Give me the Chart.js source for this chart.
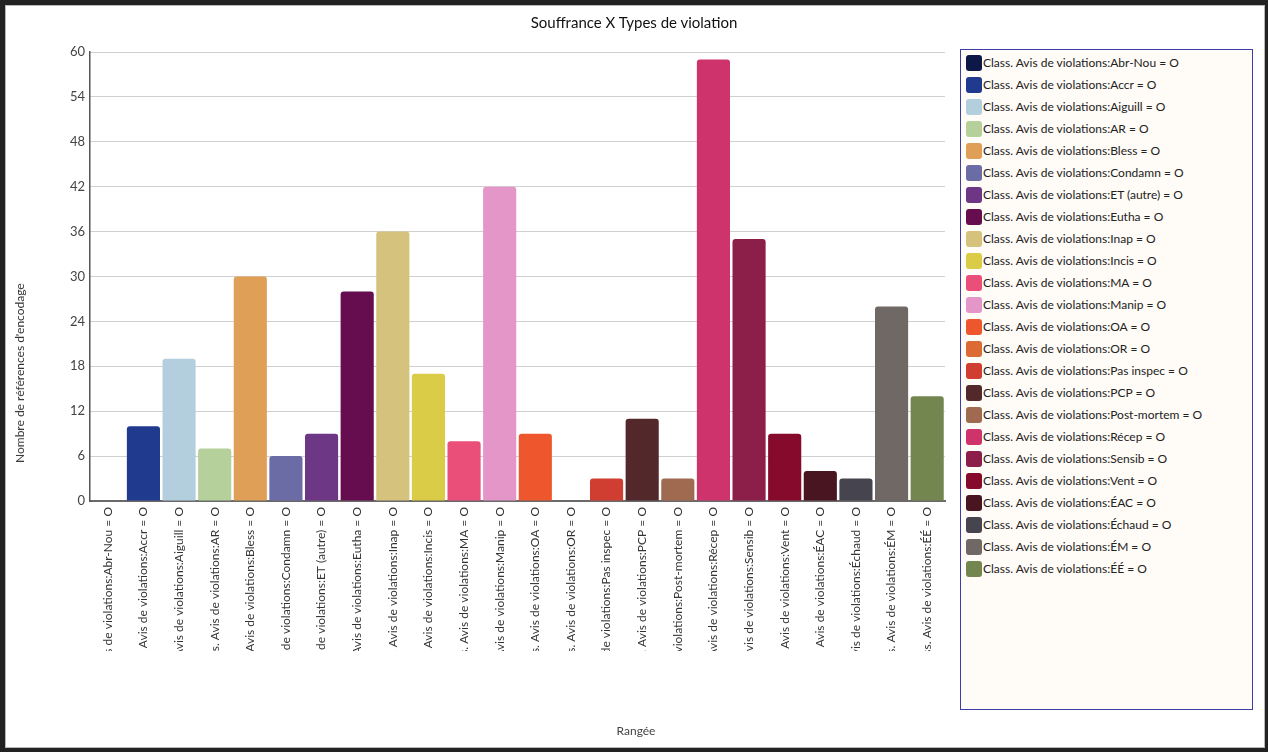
<!DOCTYPE html>
<html>
<head>
<meta charset="utf-8">
<script src="https://cdn.jsdelivr.net/npm/chart.js@4/dist/chart.umd.min.js"></script>
<style>
  html, body { margin: 0; padding: 0; width: 1268px; height: 752px; background: #222; overflow: hidden; font-family: Lato, "Open Sans", sans-serif; }
  #frame { position: absolute; left: 5px; top: 5px; width: 1258px; height: 741px; background: #fff; border: 1px solid #b8b8b8; }
  #c { position: absolute; left: 0; top: 0; }
  .ttl { position: absolute; font-family: Lato, sans-serif; font-weight: 400; white-space: nowrap; }
  #title { left: 0; width: 1268px; top: 13px; text-align: center; font-size: 15px; color: #111; }
  #xtitle { left: 0; width: 1272px; top: 723px; text-align: center; font-size: 12px; color: #444; }
  #ytitle { left: 13px; top: 283px; height: 181px; font-size: 12px; line-height: 14px; color: #333; writing-mode: vertical-rl; transform: rotate(180deg); text-align: center; }
  #legend { position: absolute; left: 960px; top: 49px; width: 291px; height: 659px; border: 1.5px solid #3d3da8; background: #fffbf6; }
  .li { position: absolute; left: 5px; height: 16px; font-family: Lato, sans-serif; font-size: 12px; color: #222; white-space: nowrap; }
  .sw { position: absolute; left: 0; top: 0; width: 16px; height: 16px; border-radius: 3px; }
  .lt { position: absolute; left: 17px; top: 0; line-height: 16px; }
</style>
</head>
<body>
<div id="frame"></div>
<canvas id="c" width="1268" height="752"></canvas>
<div id="title" class="ttl">Souffrance X Types de violation</div>
<div id="xtitle" class="ttl">Rangée</div>
<div id="ytitle" class="ttl">Nombre de références d'encodage</div>
<div id="legend"></div>
<script>
const categories = ["Abr-Nou","Accr","Aiguill","AR","Bless","Condamn","ET (autre)","Eutha","Inap","Incis","MA","Manip","OA","OR","Pas inspec","PCP","Post-mortem","Récep","Sensib","Vent","ÉAC","Échaud","ÉM","ÉÉ"];
const values = [0,10,19,7,30,6,9,28,36,17,8,42,9,0,3,11,3,59,35,9,4,3,26,14];
const colors = ["#0e1848","#203a8e","#b3cfde","#b5d09a","#e09f56","#6b6ca6","#6e3785","#650d4f","#d5c27c","#dacc46","#ea4f7a","#e396c7","#ee572d","#db6a35","#cf3e30","#53282b","#a06a50","#cf336b","#8b1f4a","#850a2c","#481520","#46454f","#6f6865","#748650"];
const yTicks = [0,6,12,18,24,30,36,42,48,54,60];
const labelPrefix = "Class. Avis de violations:";
const labelSuffix = " = O";

const labels = categories.map(c => labelPrefix + c + labelSuffix);

// Legend
const leg = document.getElementById('legend');
labels.forEach((l, i) => {
  const d = document.createElement('div');
  d.className = 'li';
  d.style.top = (5 + i * 22) + 'px';
  d.innerHTML = '<span class="sw" style="background:' + colors[i] + '"></span><span class="lt"></span>';
  d.querySelector('.lt').textContent = l;
  leg.appendChild(d);
});

class ClippedCategoryScale extends Chart.CategoryScale {
  drawLabels(chartArea) {
    const ctx = this.ctx;
    ctx.save();
    ctx.beginPath();
    ctx.rect(this.left - 30, this.top, this.width + 60, 150);
    ctx.clip();
    super.drawLabels(chartArea);
    ctx.restore();
  }
}
ClippedCategoryScale.id = 'clippedCategory';
ClippedCategoryScale.defaults = Chart.CategoryScale.defaults;
Chart.register(ClippedCategoryScale);

new Chart(document.getElementById('c'), {
  type: 'bar',
  data: {
    labels: labels,
    datasets: [{
      data: values,
      backgroundColor: colors,
      borderWidth: 0,
      borderRadius: 3,
      barPercentage: 0.93,
      categoryPercentage: 1.0
    }]
  },
  options: {
    responsive: false,
    animation: false,
    layout: { padding: { left: 40, top: 52, right: 323, bottom: 10 } },
    plugins: { legend: { display: false }, title: { display: false }, tooltip: { enabled: false } },
    scales: {
      x: {
        type: 'clippedCategory',
        afterFit: s => { s.height = 241; },
        grid: { display: false, drawTicks: false },
        border: { display: true, color: '#6a6a6a', width: 2 },
        ticks: {
          autoSkip: false, maxRotation: 90, minRotation: 90, padding: 6,
          color: '#333', font: { family: 'Lato', size: 12 }
        }
      },
      y: {
        min: 0, max: 60,
        afterFit: s => { s.width = 50; },
        afterBuildTicks: s => { s.ticks = yTicks.map(v => ({ value: v })); },
        grid: { color: '#a0a0a0', lineWidth: 1, drawTicks: false },
        border: { display: true, color: '#555', width: 1.5, dash: [1, 1] },
        ticks: { padding: 5, color: '#444', font: { family: 'Lato', size: 13 } }
      }
    }
  }
});
</script>
</body>
</html>
